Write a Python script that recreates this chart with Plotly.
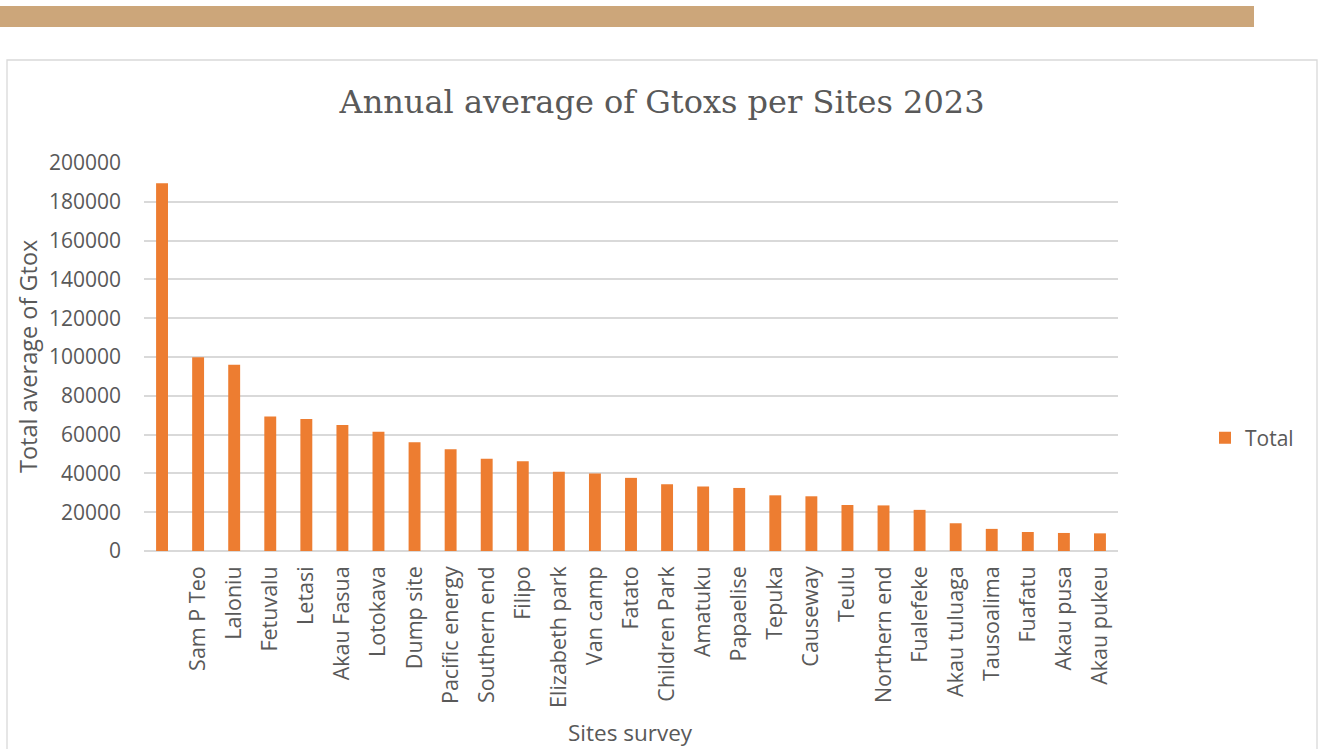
import plotly.graph_objects as go

# Sites surveyed (first category has no name in the source table)
sites = [
    " ", "Sam P Teo", "Laloniu", "Fetuvalu", "Letasi", "Akau Fasua", "Lotokava",
    "Dump site", "Pacific energy", "Southern end", "Filipo", "Elizabeth park",
    "Van camp", "Fatato", "Children Park", "Amatuku", "Papaelise", "Tepuka",
    "Causeway", "Teulu", "Northern end", "Fualefeke", "Akau tuluaga",
    "Tausoalima", "Fuafatu", "Akau pusa", "Akau pukeu",
]

# Annual average of Gtox per site
totals = [
    189500, 99900, 96000, 69300, 68100, 65000, 61500,
    56000, 52400, 47600, 46200, 40900,
    39900, 37700, 34400, 33300, 32500, 28700,
    28200, 23700, 23500, 21200, 14300,
    11400, 9800, 9300, 9100,
]

y_ticks = [0, 20000, 40000, 60000, 80000, 100000, 120000, 140000, 160000, 180000, 200000]

W, H = 1324, 749
L, R, T, B = 144, 1118, 163, 551  # plot area in pixels
PW, PH = R - L, B - T


def px(x):
    return (x - L) / PW


def py(y):
    return (B - y) / PH


grey = "#595959"
grid = "#d9d9d9"
sans = "Open Sans, Noto Sans, sans-serif"

fig = go.Figure()
fig.add_trace(go.Bar(
    x=sites,
    y=totals,
    name="Total",
    marker=dict(color="#ED7D31", line=dict(width=0)),
    showlegend=True,
))

fig.update_layout(
    width=W,
    height=H,
    margin=dict(l=L, r=W - R, t=T, b=H - B, autoexpand=False),
    paper_bgcolor="white",
    plot_bgcolor="white",
    bargap=0.67,
    title=dict(
        text="Annual average of Gtoxs per Sites 2023",
        font=dict(family="DejaVu Serif, Liberation Serif, serif", size=32, color=grey),
        x=0.5,
        xanchor="center",
        xref="container",
        y=1 - 102 / H,
        yanchor="middle",
        yref="container",
    ),
    xaxis=dict(
        type="category",
        tickangle=-90,
        tickfont=dict(family=sans, size=21.5, color=grey),
        showgrid=False,
        showline=False,
        ticks="",
        ticklabelstandoff=10,
        automargin=False,
    ),
    yaxis=dict(
        range=[0, 200000],
        tickvals=y_ticks,
        ticktext=[str(v) for v in y_ticks],
        tickfont=dict(family=sans, size=21, color=grey),
        showgrid=True,
        gridcolor=grid,
        gridwidth=1.5,
        zeroline=True,
        zerolinecolor=grid,
        zerolinewidth=1.5,
        showline=False,
        ticks="",
        ticklabelstandoff=22,
        automargin=False,
    ),
    legend=dict(
        x=px(1205),
        y=py(438),
        xanchor="left",
        yanchor="middle",
        font=dict(family=sans, size=21, color=grey),
        itemwidth=30,
        bgcolor="rgba(0,0,0,0)",
    ),
    annotations=[
        dict(
            text="Total average of Gtox",
            x=px(28), y=py(357), xref="paper", yref="paper",
            textangle=-90, showarrow=False,
            font=dict(family=sans, size=23.5, color=grey),
            xanchor="center", yanchor="middle",
        ),
        dict(
            text="Sites survey",
            x=px(630), y=py(732), xref="paper", yref="paper",
            showarrow=False,
            font=dict(family=sans, size=22.5, color=grey),
            xanchor="center", yanchor="middle",
        ),
    ],
    shapes=[
        # decorative band along the top of the page
        dict(type="rect", xref="paper", yref="paper",
             x0=px(0), x1=px(1254), y0=py(27), y1=py(6),
             fillcolor="#CCA67A", line=dict(width=0), layer="below"),
        # chart frame
        dict(type="rect", xref="paper", yref="paper",
             x0=px(7), x1=px(1317), y0=py(770), y1=py(60),
             fillcolor="rgba(0,0,0,0)", line=dict(color="#d9d9d9", width=1.3),
             layer="below"),
    ],
)

fig.write_html("out.html")
